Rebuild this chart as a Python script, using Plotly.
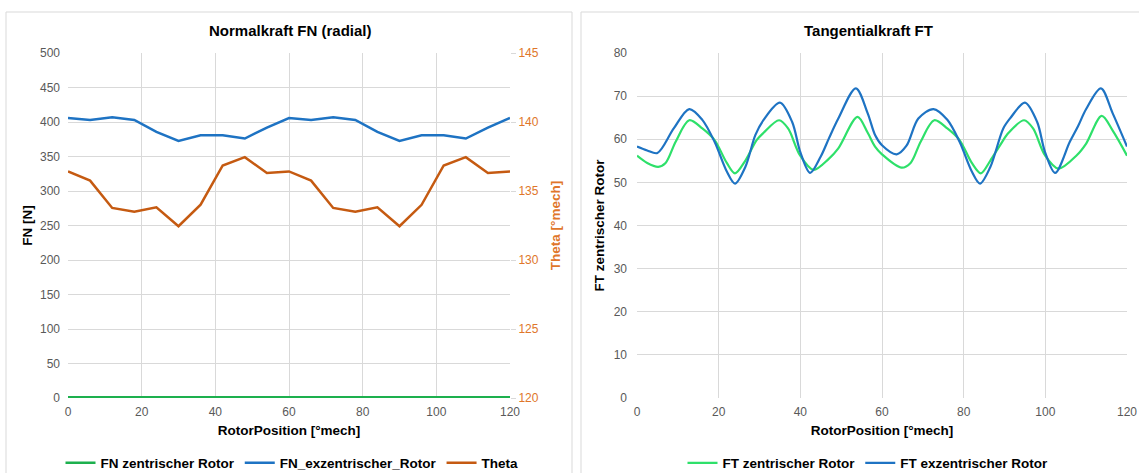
import plotly.graph_objects as go

# ---------------- data ----------------
rotor_pos_fn = [0, 6, 12, 18, 24, 30, 36, 42, 48, 54, 60, 66, 72, 78, 84, 90, 96, 102, 108, 114, 120]
fn_zentrisch = [1, 1, 1, 1, 1, 1, 1, 1, 1, 1, 1, 1, 1, 1, 1, 1, 1, 1, 1, 1, 1]
fn_exzentrisch = [405.8, 403.0, 406.7, 403.0, 385.6, 372.6, 380.8, 380.8, 376.0, 392.0, 405.8,
                  403.0, 406.7, 403.0, 385.6, 372.6, 380.8, 380.8, 376.0, 392.0, 405.8]
theta = [136.42, 135.75, 133.77, 133.49, 133.82, 132.45, 134.01, 136.85, 137.45, 136.3, 136.42,
         135.75, 133.77, 133.49, 133.82, 132.45, 134.0, 136.85, 137.45, 136.3, 136.42]

ft_ex_pos = [0, 2.5, 5, 9, 12.8, 16, 19, 22, 24, 26.5, 29, 31, 35, 38, 40, 42.4, 45, 47, 49.3,
             53.6, 56.5, 58.3, 60, 63.6, 66, 68.9, 72.6, 76, 79, 82, 84, 86.5, 89.7, 91.5, 95,
             98, 99.9, 102.4, 106, 108, 110, 113.6, 116.5, 120]
ft_exzentrisch = [58.3, 57.4, 56.8, 62.5, 67.0, 64.5, 59.4, 52.5, 49.7, 53.5, 61.0, 64.5, 68.5,
                  64.0, 57.0, 52.2, 56.0, 60.2, 64.8, 71.8, 66.0, 61.0, 58.6, 56.5, 58.5, 64.8,
                  67.0, 64.5, 59.4, 52.5, 49.7, 53.5, 62.5, 65.0, 68.5, 64.0, 57.1, 52.2, 59.4,
                  63.0, 67.0, 71.8, 66.0, 58.3]

ft_z_pos = [0, 2.5, 5.2, 7, 9.5, 12.8, 16, 19, 22, 24, 26.5, 29.3, 31, 34.8, 37, 39.9, 43.2, 46.9,
            49.3, 54, 56.5, 58.3, 60, 64.8, 67, 69.5, 72.8, 76, 79, 82, 84.2, 86.5, 88.9, 91,
            94.8, 97, 99.9, 103.2, 107.7, 110, 113.8, 116.5, 120]
ft_zentrisch = [56.2, 54.5, 53.6, 54.5, 59.5, 64.4, 62.5, 59.8, 54.5, 52.1, 55.0, 59.8, 61.5, 64.4,
                62.5, 56.3, 52.9, 55.4, 57.9, 65.2, 61.5, 58.3, 56.5, 53.4, 54.5, 59.5, 64.4, 62.5,
                59.8, 54.5, 52.1, 55.0, 58.6, 61.5, 64.4, 62.5, 56.3, 53.2, 56.3, 59.0, 65.4, 62.0,
                56.2]

x_ticks = [0, 20, 40, 60, 80, 100, 120]

# ---------------- styling ----------------
W, H = 1139, 473
FONT = "Liberation Sans, Arial, sans-serif"
GRID = "#D9D9D9"
TICKC = "#595959"
GREEN_L = "#1DB04E"
GREEN_R = "#2EE06A"
BLUE = "#1E73C3"
ORANGE = "#C55A11"
ORANGE_T = "#E0762A"


def px_x(p):
    return p / W


def px_y(p):
    return 1 - p / H


fig = go.Figure()

fig.add_trace(go.Scatter(x=rotor_pos_fn, y=fn_zentrisch, name="FN zentrischer Rotor", mode="lines",
                         line=dict(color=GREEN_L, width=2.5), xaxis="x", yaxis="y", legend="legend"))
fig.add_trace(go.Scatter(x=rotor_pos_fn, y=fn_exzentrisch, name="FN_exzentrischer_Rotor", mode="lines",
                         line=dict(color=BLUE, width=2.5), xaxis="x", yaxis="y", legend="legend"))
fig.add_trace(go.Scatter(x=rotor_pos_fn, y=theta, name="Theta", mode="lines",
                         line=dict(color=ORANGE, width=2.5), xaxis="x", yaxis="y2", legend="legend"))

fig.add_trace(go.Scatter(x=ft_z_pos, y=ft_zentrisch, name="FT zentrischer Rotor", mode="lines",
                         line=dict(color=GREEN_R, width=2.2, shape="spline", smoothing=0.9),
                         xaxis="x3", yaxis="y3", legend="legend2"))
fig.add_trace(go.Scatter(x=ft_ex_pos, y=ft_exzentrisch, name="FT exzentrischer Rotor", mode="lines",
                         line=dict(color=BLUE, width=2.2, shape="spline", smoothing=0.9),
                         xaxis="x3", yaxis="y3", legend="legend2"))

ydom = [px_y(398), px_y(53)]
tickfont = dict(family=FONT, size=12, color=TICKC)
titlefont = dict(family=FONT, size=13.5, color="#000000", weight="bold")

xcommon = dict(range=[0, 120], tickvals=x_ticks, showgrid=True, gridcolor=GRID, gridwidth=1,
               zeroline=False, showline=False, tickfont=tickfont, ticks="", ticklabelstandoff=5,
               automargin=False,
               title=dict(text="RotorPosition [°mech]", font=titlefont, standoff=7))

legfont = dict(family=FONT, size=13.5, color="#000000", weight="bold")

fig.update_layout(
    width=W, height=H,
    margin=dict(l=0, r=0, t=0, b=0, autoexpand=False),
    paper_bgcolor="white", plot_bgcolor="white",
    font=dict(family=FONT),
    showlegend=True,
    xaxis=dict(domain=[px_x(68), px_x(510)], anchor="y", **xcommon),
    yaxis=dict(domain=ydom, anchor="x", range=[0, 500], dtick=50, showgrid=True, gridcolor=GRID,
               zeroline=False, showline=False, tickfont=tickfont, ticks="", ticklabelstandoff=7,
               automargin=False,
               title=dict(text="FN [N]", font=titlefont, standoff=4)),
    yaxis2=dict(overlaying="y", side="right", anchor="x", range=[120, 145], dtick=5, showgrid=False,
                zeroline=False, showline=False, ticks="outside", ticklen=5, tickcolor=GRID,
                automargin=False,
                tickfont=dict(family=FONT, size=12, color=ORANGE_T),
                title=dict(text="Theta [°mech]",
                           font=dict(family=FONT, size=13.5, color=ORANGE_T, weight="bold"),
                           standoff=12)),
    xaxis3=dict(domain=[px_x(637), px_x(1127)], anchor="y3", **xcommon),
    yaxis3=dict(domain=ydom, anchor="x3", range=[0, 80], dtick=10, showgrid=True, gridcolor=GRID,
                zeroline=False, showline=False, tickfont=tickfont, ticks="", ticklabelstandoff=9,
                automargin=False,
                title=dict(text="FT zentrischer Rotor", font=titlefont, standoff=5)),
    legend=dict(orientation="h", xref="container", yref="container", x=px_x(292), xanchor="center",
                y=px_y(463), yanchor="middle", font=legfont, itemwidth=30,
                bgcolor="rgba(0,0,0,0)", traceorder="normal"),
    legend2=dict(orientation="h", xref="container", yref="container", x=px_x(868), xanchor="center",
                 y=px_y(463), yanchor="middle", font=legfont, itemwidth=30,
                 bgcolor="rgba(0,0,0,0)", traceorder="normal"),
    annotations=[
        dict(text="Normalkraft FN (radial)", x=px_x(290), y=px_y(31), xref="paper", yref="paper",
             showarrow=False, xanchor="center", yanchor="middle",
             font=dict(family=FONT, size=15, color="#000000", weight="bold")),
        dict(text="Tangentialkraft FT", x=px_x(868), y=px_y(31), xref="paper", yref="paper",
             showarrow=False, xanchor="center", yanchor="middle",
             font=dict(family=FONT, size=15, color="#000000", weight="bold")),
    ],
    shapes=[
        dict(type="rect", xref="paper", yref="paper", x0=px_x(6), x1=px_x(572), y0=px_y(480), y1=px_y(12),
             line=dict(color="#D9D9D9", width=1), layer="below"),
        dict(type="rect", xref="paper", yref="paper", x0=px_x(581), x1=px_x(1145), y0=px_y(480), y1=px_y(12),
             line=dict(color="#D9D9D9", width=1), layer="below"),
    ],
)

fig.write_html("out.html", config={"displayModeBar": False},
               post_script="document.body.style.margin='0';document.body.style.overflow='hidden';")
